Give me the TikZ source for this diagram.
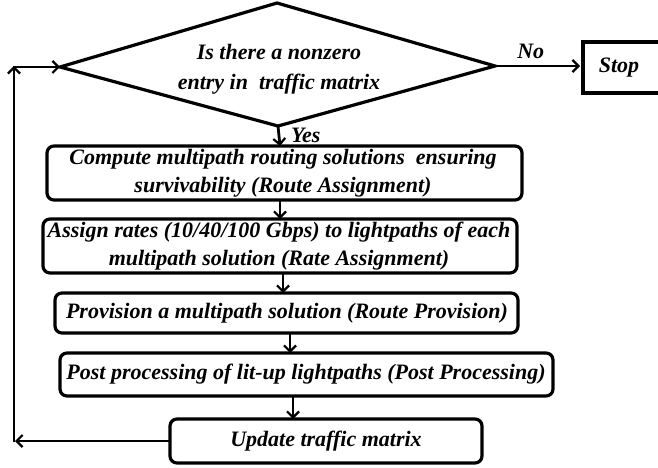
\documentclass[tikz,border=0pt]{standalone}
\usepackage{fontspec}
\setmainfont{Liberation Serif}
\usetikzlibrary{arrows.meta,shapes.geometric}
\begin{document}
\begin{tikzpicture}[x=1pt,y=-1pt,
  every node/.style={font=\fontsize{22}{25}\selectfont\bfseries\itshape},
  stepbox/.style={draw,line width=3.2pt,rounded corners=7pt},
  flow/.style={line width=2.8pt,-{Straight Barb[length=6pt,width=12pt,line width=2.2pt]}},
  lbl/.style={inner sep=0pt}]
\useasboundingbox (0,0) rectangle (658,468);
\clip (0,0) rectangle (658,468);
% decision diamond
\coordinate (dt) at (277,3);
\coordinate (dl) at (60,67);
\coordinate (db) at (278,126);
\coordinate (dr) at (495,66);
\draw[line width=3.2pt,line join=miter] (dt) -- (dr) -- (db) -- (dl) -- cycle;
\node[lbl,align=center] (q) at (279,69) {Is there a nonzero\\[5pt]entry in\ \ traffic matrix};
% stop box
\draw[line width=3.2pt] (662,42) -- (583,42) -- (583,93) -- (662,93);
\node[lbl] (stop) at (619,68) {Stop};
\coordinate (stopl) at (580,66);
% process boxes
\draw[stepbox] (47,146) rectangle (522,200);
\node[lbl,align=center] (b1) at (283,173) {Compute multipath routing solutions\ \ ensuring\\[3pt]survivability (Route Assignment)};
\draw[stepbox] (43,219) rectangle (517,273);
\node[lbl,align=center] (b2) at (279,246) {Assign rates (10/40/100 Gbps) to lightpaths of each\\[3pt]multipath solution (Rate Assignment)};
\draw[stepbox] (55,293) rectangle (518,333);
\node[lbl] (b3) at (287,313) {Provision a multipath solution (Route Provision)};
\draw[stepbox] (60,353) rectangle (553,396);
\node[lbl] (b4) at (306,374) {Post processing of lit-up lightpaths (Post Processing)};
\draw[stepbox] (170,419) rectangle (482,463);
\node[lbl] (b5) at (326,441) {Update traffic matrix};
% connectors
\coordinate (b1t) at (280,146);
\coordinate (b1b) at (280,200);
\coordinate (b2t) at (280,219);
\coordinate (b2b) at (283,273);
\coordinate (b3t) at (283,293);
\coordinate (b3b) at (290,333);
\coordinate (b4t) at (290,353);
\coordinate (b4b) at (293,396);
\coordinate (b5t) at (293,419);
\coordinate (b5l) at (170,441);
\coordinate (cl) at (15,441);
\coordinate (cb) at (14,442);
\coordinate (ct) at (14,66);
\coordinate (cr) at (13,67);
\draw[flow] (dr) -- node[lbl,above=6pt,pos=0.42] (no) {No} (stopl);
\draw[flow] (db) -- (b1t);
\node[lbl,anchor=west] (yes) at (291,135) {Yes};
\draw[flow] (b1b) -- (b2t);
\draw[flow] (b2b) -- (b3t);
\draw[flow] (b3b) -- (b4t);
\draw[flow] (b4b) -- (b5t);
\draw[flow] (b5l) -- (cl);
\draw[flow] (cb) -- (ct);
\draw[flow] (cr) -- (dl);
\end{tikzpicture}
\end{document}
